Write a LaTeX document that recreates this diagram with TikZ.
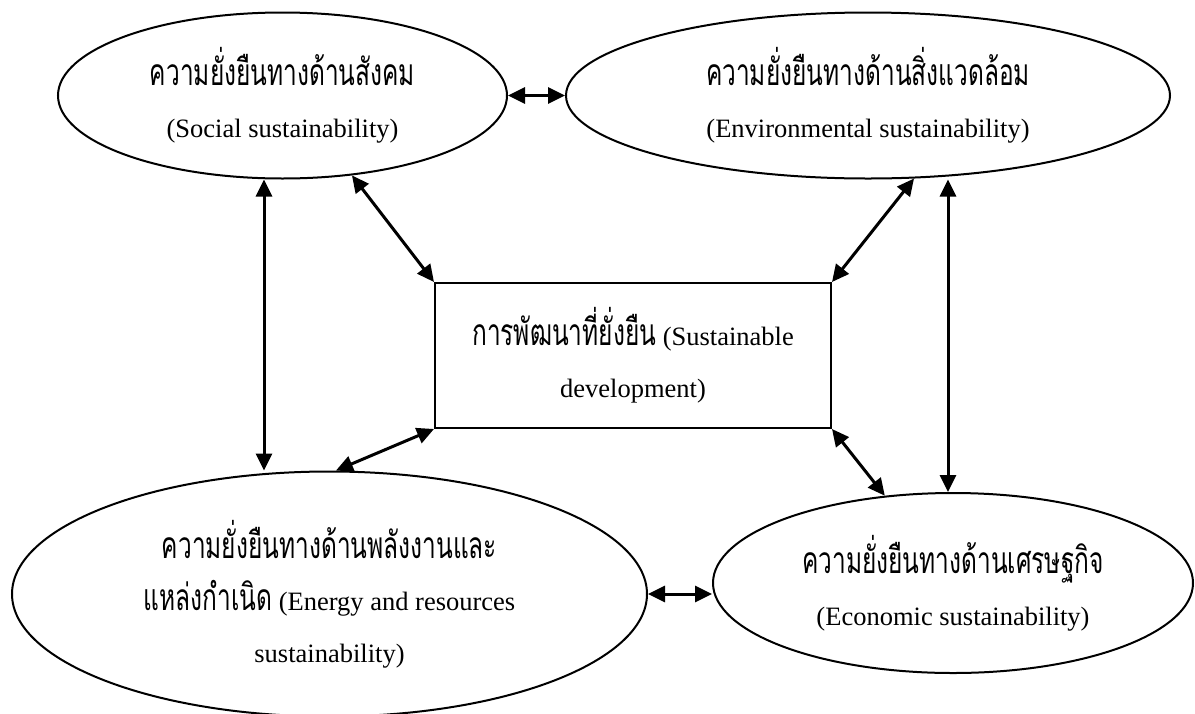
\documentclass[tikz,border=0pt]{standalone}
\usepackage{fontspec}
\setmainfont{Liberation Serif}
\newfontfamily\thai[Script=Thai,FakeStretch=0.66,Scale=1.4]{Loma}
\usetikzlibrary{shapes.geometric,arrows.meta}
\begin{document}
\begin{tikzpicture}[x=1pt,y=-1pt,
  lbl/.style={align=center,font=\fontsize{26.5}{52}\selectfont},
  oval/.style={lbl,draw,line width=2pt,ellipse,inner sep=0pt},
  box/.style={lbl,draw,line width=2pt,rectangle,inner sep=0pt},
  link/.style={line width=3pt,{Triangle[length=17pt,width=16pt]}-{Triangle[length=17pt,width=16pt]}}]
\useasboundingbox (0,0) rectangle (1195,713);

\node[oval,minimum width=449pt,minimum height=166pt] (soc) at (282.5,95.5)
  {{\thai ความยั่งยืนทางด้านสังคม}\\(Social sustainability)};
\node[oval,minimum width=604pt,minimum height=166pt] (env) at (868,95.5)
  {{\thai ความยั่งยืนทางด้านสิ่งแวดล้อม}\\(Environmental sustainability)};
\node[box,minimum width=396pt,minimum height=145pt] (sd) at (633,355.5)
  {{\thai การพัฒนาที่ยั่งยืน} (Sustainable\\development)};
\node[oval,minimum width=635pt,minimum height=245pt] (en) at (329.5,594)
  {{\thai ความยั่งยืนทางด้านพลังงานและ}\\{\thai แหล่งกำเนิด} (Energy and resources\\sustainability)};
\node[oval,minimum width=480pt,minimum height=180pt] (ec) at (953,583)
  {{\thai ความยั่งยืนทางด้านเศรษฐกิจ}\\(Economic sustainability)};

\draw[link] (soc.east) -- (env.west);
\draw[link] (264,0 |- soc.south) -- (264,0 |- en.north);
\draw[link] (soc.-49) -- (sd.north west);
\draw[link] (env.-61) -- (sd.north east);
\draw[link] (948,0 |- env.south) -- (948,0 |- ec.north);
\draw[link] (sd.south west) -- (en.87);
\draw[link] (sd.south east) -- (ec.128);
\draw[link] (en.east) -- (ec.west |- en.east);
\end{tikzpicture}
\end{document}
